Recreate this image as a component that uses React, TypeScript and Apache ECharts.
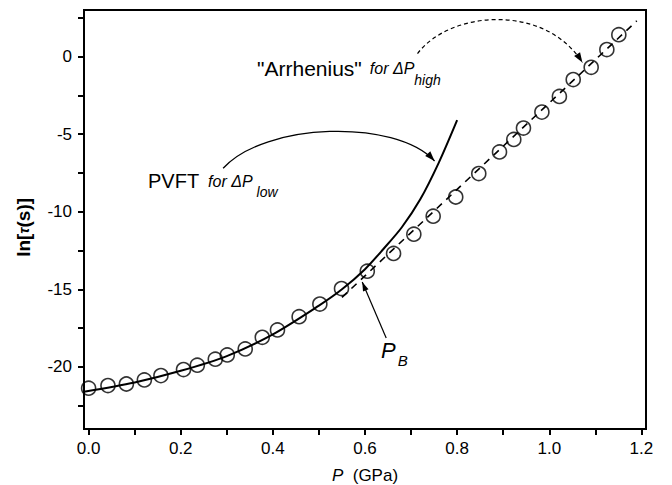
import React, { useEffect, useRef } from "react";
import * as echarts from "echarts";

// ---- data ----
const pressureGPa = [0.0, 0.042, 0.082, 0.121, 0.157, 0.206, 0.236, 0.275, 0.301, 0.34, 0.377, 0.41, 0.457, 0.502, 0.549, 0.605, 0.662, 0.706, 0.748, 0.797, 0.847, 0.892, 0.923, 0.944, 0.984, 1.022, 1.052, 1.091, 1.125, 1.151];
const lnTau = [-21.37, -21.2, -21.1, -20.84, -20.56, -20.17, -19.89, -19.5, -19.23, -18.84, -18.09, -17.62, -16.76, -15.95, -14.95, -13.83, -12.69, -11.45, -10.29, -9.05, -7.54, -6.15, -5.34, -4.61, -3.58, -2.57, -1.48, -0.69, 0.45, 1.41];

// PVFT fit (solid curve)
const pvftP = [-0.01, 0.1, 0.2, 0.3, 0.4, 0.5, 0.55, 0.6, 0.64, 0.68, 0.72, 0.76, 0.8];
const pvftLn = [-21.6, -21.0, -20.25, -19.3, -17.9, -16.05, -15.0, -13.7, -12.4, -11.0, -9.2, -6.85, -4.1];

// Arrhenius fit (dashed straight line), end points
const arrP = [0.55, 1.19];
const arrLn = [-15.52, 2.3];

// axes
const X_MIN = -0.01;
const X_MAX = 1.21;
const Y_MIN = -24;
const Y_MAX = 3;
const xLabelValues = [0, 0.2, 0.4, 0.6, 0.8, 1.0, 1.2];
const xTickValues = [0, 0.1, 0.2, 0.3, 0.4, 0.5, 0.6, 0.7, 0.8, 0.9, 1.0, 1.1, 1.2];
const yLabelValues = [-20, -15, -10, -5, 0];
const yTickValues = [-22.5, -20, -17.5, -15, -12.5, -10, -7.5, -5, -2.5, 0, 2.5];

const FONT = "'Liberation Sans', Arial, Helvetica, sans-serif";

function zip(a: number[], b: number[]) {
  return a.map((v, i) => [v, b[i]]);
}

function arrowHead(tip: number[], from: number[], len: number, halfW: number) {
  const dx = tip[0] - from[0];
  const dy = tip[1] - from[1];
  const d = Math.hypot(dx, dy) || 1;
  const ux = dx / d;
  const uy = dy / d;
  const bx = tip[0] - ux * len;
  const by = tip[1] - uy * len;
  return [
    [tip[0], tip[1]],
    [bx - uy * halfW, by + ux * halfW],
    [bx + uy * halfW, by - ux * halfW],
  ];
}

export default function App() {
  const ref = useRef<HTMLDivElement>(null);

  useEffect(() => {
    if (!ref.current) return;
    const chart = echarts.init(ref.current, null, { renderer: "svg" });

    const axisCommon = {
      type: "value" as const,
      splitLine: { show: false },
      axisLine: { show: true, onZero: false, lineStyle: { color: "#000", width: 2 } },
    };

    chart.setOption({
      animation: false,
      backgroundColor: "#fff",
      grid: {
        left: 84,
        right: 26,
        top: 10,
        bottom: 56,
        show: true,
        borderColor: "#000",
        borderWidth: 2,
        backgroundColor: "transparent",
        outerBoundsMode: "none",
      },
      xAxis: {
        ...axisCommon,
        min: X_MIN,
        max: X_MAX,
        axisTick: { show: true, length: 6, lineStyle: { color: "#000", width: 2 }, customValues: xTickValues },
        axisLabel: {
          customValues: xLabelValues,
          formatter: (v: number) => v.toFixed(1),
          margin: 11,
          fontSize: 17,
          color: "#000",
          fontFamily: FONT,
        },
        name: "{i|P}  (GPa)",
        nameLocation: "middle",
        nameGap: 38,
        nameTextStyle: {
          fontSize: 17,
          color: "#000",
          fontFamily: FONT,
          rich: {
            i: { fontStyle: "italic", fontSize: 17, fontFamily: FONT, color: "#000" },
          },
        },
      },
      yAxis: {
        ...axisCommon,
        min: Y_MIN,
        max: Y_MAX,
        axisTick: { show: true, length: 6, lineStyle: { color: "#000", width: 2 }, customValues: yTickValues },
        axisLabel: {
          customValues: yLabelValues,
          formatter: (v: number) => String(v),
          margin: 12,
          fontSize: 17,
          color: "#000",
          fontFamily: FONT,
        },
        name: "ln[{t|τ}(s)]   ",
        nameLocation: "middle",
        nameRotate: 90,
        nameGap: 51,
        nameTextStyle: {
          fontSize: 19,
          fontWeight: "bold",
          color: "#000",
          fontFamily: FONT,
          rich: {
            t: { fontStyle: "italic", fontWeight: "bold", fontSize: 15, fontFamily: FONT, color: "#000" },
          },
        },
      },
      series: [
        {
          type: "scatter",
          data: zip(pressureGPa, lnTau),
          symbol: "circle",
          symbolSize: 14,
          itemStyle: { color: "rgba(0,0,0,0)", borderColor: "#000", borderWidth: 1.6 },
          z: 2,
          silent: true,
        },
        {
          type: "line",
          data: zip(pvftP, pvftLn),
          showSymbol: false,
          smooth: 0.3,
          lineStyle: { color: "#000", width: 2 },
          z: 3,
          silent: true,
        },
        {
          type: "line",
          data: zip(arrP, arrLn),
          showSymbol: false,
          lineStyle: { color: "#000", width: 1.6, type: [7, 6] },
          z: 3,
          silent: true,
        },
      ],
    });

    const px = (x: number, y: number) =>
      chart.convertToPixel({ xAxisIndex: 0, yAxisIndex: 0 }, [x, y]) as number[];

    // annotation anchors in data coordinates
    const pvftArrow = [px(0.292, -7.2), px(0.383, -4.24), px(0.665, -3.99), px(0.751, -6.73)];
    const arrhArrow = [px(0.714, 0.19), px(0.784, 2.96), px(0.99, 3.47), px(1.072, -0.39)];
    const pbFrom = px(0.646, -18.14);
    const pbTip = px(0.594, -14.53);

    const richText = (x: number, y: number, text: string, rich: Record<string, any>) => {
      const p = px(x, y);
      return {
        type: "text",
        x: p[0],
        y: p[1],
        silent: true,
        style: {
          text,
          rich,
          fill: "#000",
          fontFamily: FONT,
          align: "left",
          verticalAlign: "top",
        },
      };
    };

    const tok = (size: number, italic: boolean, padding?: number[]) => ({
      fontSize: size,
      fontFamily: FONT,
      fontStyle: italic ? "italic" : "normal",
      fill: "#000",
      color: "#000",
      verticalAlign: "middle",
      ...(padding ? { padding } : {}),
    });

    chart.setOption({
      graphic: [
        {
          type: "bezierCurve",
          silent: true,
          shape: {
            x1: pvftArrow[0][0], y1: pvftArrow[0][1],
            cpx1: pvftArrow[1][0], cpy1: pvftArrow[1][1],
            cpx2: pvftArrow[2][0], cpy2: pvftArrow[2][1],
            x2: pvftArrow[3][0], y2: pvftArrow[3][1],
          },
          style: { stroke: "#000", lineWidth: 1.3, fill: "none" },
        },
        {
          type: "polygon",
          silent: true,
          shape: { points: arrowHead(pvftArrow[3], pvftArrow[2], 10, 3.5) },
          style: { fill: "#000" },
        },
        {
          type: "bezierCurve",
          silent: true,
          shape: {
            x1: arrhArrow[0][0], y1: arrhArrow[0][1],
            cpx1: arrhArrow[1][0], cpy1: arrhArrow[1][1],
            cpx2: arrhArrow[2][0], cpy2: arrhArrow[2][1],
            x2: arrhArrow[3][0], y2: arrhArrow[3][1],
          },
          style: { stroke: "#000", lineWidth: 1.2, fill: "none", lineDash: [4, 3] },
        },
        {
          type: "polygon",
          silent: true,
          shape: { points: arrowHead(arrhArrow[3], arrhArrow[2], 10, 3.5) },
          style: { fill: "#000" },
        },
        {
          type: "line",
          silent: true,
          shape: { x1: pbFrom[0], y1: pbFrom[1], x2: pbTip[0], y2: pbTip[1] },
          style: { stroke: "#000", lineWidth: 1.2 },
        },
        {
          type: "polygon",
          silent: true,
          shape: { points: arrowHead(pbTip, pbFrom, 9, 3) },
          style: { fill: "#000" },
        },
        richText(0.3656, 0.381, '{a|"Arrhenius"}{b|for ΔP}{s|high}', {
          a: tok(21, false),
          b: tok(16, true, [0, 0, 0, 8]),
          s: tok(14, true, [22, 0, 0, 0]),
        }),
        richText(0.1289, -6.878, "{a|PVFT}{b|for ΔP}{s|low}", {
          a: tok(20, false),
          b: tok(16, true, [0, 0, 0, 9]),
          s: tok(14, true, [22, 0, 0, 4]),
        }),
        richText(0.6347, -17.769, "{a|P}{s|B}", {
          a: tok(22, true),
          s: tok(15, true, [21, 0, 0, 2]),
        }),
      ],
    });

    return () => {
      chart.dispose();
    };
  }, []);

  return (
    <div
      ref={ref}
      style={{ position: "fixed", left: 0, top: 0, width: 672, height: 485, background: "#fff" }}
    />
  );
}
